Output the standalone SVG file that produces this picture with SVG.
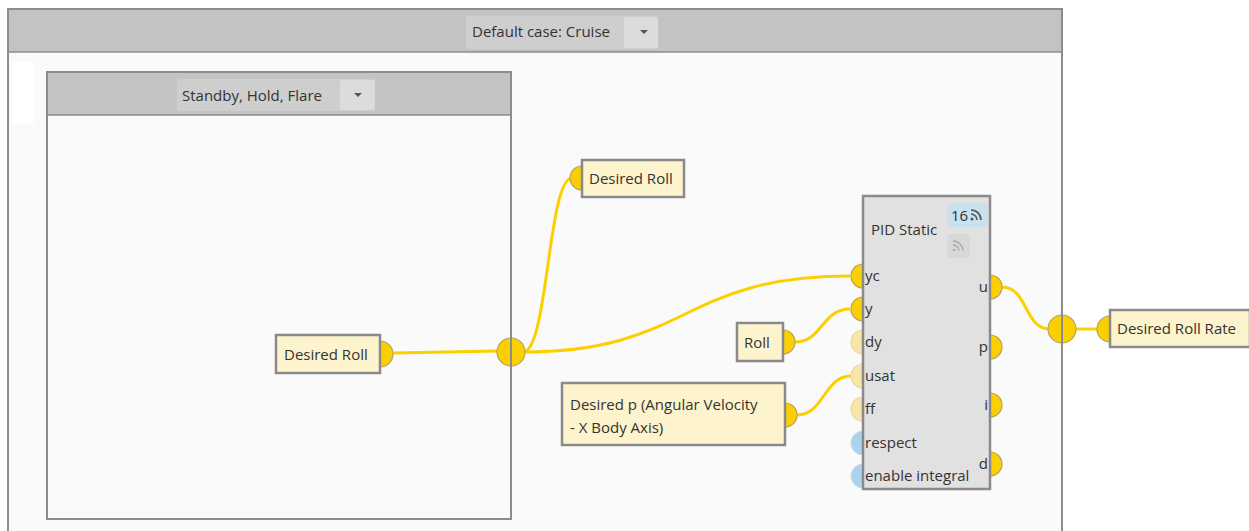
<svg xmlns="http://www.w3.org/2000/svg" width="1249" height="531" viewBox="0 0 1249 531">
<defs>
<style>
text{font-family:"Open Sans","Noto Sans","Liberation Sans",sans-serif;font-size:15px;fill:#333}
.cont{fill:#fafafa;stroke:#8c8c8c;stroke-width:2}
.hdr{fill:#c3c3c3}
.dd{fill:#cecece}
.ddb{fill:#dcdcdc}
.box{fill:#fdf3cc;stroke:#8a8a8a;stroke-width:2.5}
.port{fill:#fcd000;stroke:#b9a35a;stroke-width:1.2}
.portl{fill:#f8e6a6;stroke:#e6d9ae;stroke-width:1.2}
.portb{fill:#a9d3ef;stroke:#c4dbe9;stroke-width:1}
.wire{fill:none;stroke:#fcd000;stroke-width:3}
.blk{fill:#e1e1e1;stroke:#8a8a8a;stroke-width:2.5}
</style>
</defs>
<rect width="1249" height="531" fill="#ffffff"/>
<g id="outer-switch">
<rect class="cont" x="8" y="9" width="1054" height="540"/>
<rect class="hdr" x="9" y="10" width="1052" height="42"/>
<line x1="8" y1="52" x2="1062" y2="52" stroke="#8c8c8c" stroke-width="1.5"/>
<rect class="dd" x="466" y="16" width="192" height="33" rx="2"/>
<rect class="ddb" x="624" y="17" width="34" height="31" rx="2"/>
<path d="M640,30 L648,30 L644,34 Z" fill="#555"/>
<text x="472" y="37">Default case: Cruise</text>
<rect x="12" y="62" width="22" height="62" fill="#ffffff"/>
<rect x="84" y="334" width="17" height="37" fill="#ffffff"/>
</g>
<g id="inner-case">
<rect class="cont" x="47" y="72" width="464" height="447"/>
<rect class="hdr" x="48" y="73" width="462" height="42"/>
<line x1="47" y1="115" x2="511" y2="115" stroke="#8c8c8c" stroke-width="1.5"/>
<rect class="dd" x="177" y="79" width="198" height="32" rx="2"/>
<rect class="ddb" x="340" y="80" width="35" height="30" rx="2"/>
<path d="M354,93 L362,93 L358,97 Z" fill="#555"/>
<text x="182" y="101">Standby, Hold, Flare</text>
</g>
<g id="connectors">
<path class="wire" d="M393,353 L497,351"/>
<path class="wire" d="M523,352 C548,352 548,178 572,178"/>
<path class="wire" d="M523,352 C690,352 680,276 850,276"/>
<path class="wire" d="M795,342 C822,342 822,309 850,309"/>
<path class="wire" d="M797,415 C824,415 824,376 851,376"/>
<path class="wire" d="M1002,287 C1028,287 1024,329 1050,329"/>
<path class="wire" d="M1076,329 L1098,329"/>
</g>
<g id="desired-roll-in">
<path class="port" d="M380,341 A13,13 0 0 1 380,367 Z"/>
<rect class="box" x="276" y="335" width="104" height="38"/>
<text x="284" y="360">Desired Roll</text>
</g>
<g id="boundary-port-1">
<circle class="port" cx="511" cy="352" r="14"/>
<line x1="511" y1="336" x2="511" y2="368" stroke="#8c8c8c" stroke-width="2"/>
</g>
<g id="desired-roll-out">
<path class="port" d="M582,166 A12,12 0 0 0 582,190 Z"/>
<rect class="box" x="582" y="160" width="102" height="37"/>
<text x="589" y="184">Desired Roll</text>
</g>
<g id="roll">
<path class="port" d="M783,330 A12,12 0 0 1 783,354 Z"/>
<rect class="box" x="737" y="323" width="46" height="38"/>
<text x="744" y="348">Roll</text>
</g>
<g id="desired-p">
<path class="port" d="M785,403 A12,12 0 0 1 785,427 Z"/>
<rect class="box" x="562" y="383" width="223" height="62"/>
<text x="570" y="410">Desired p (Angular Velocity</text>
<text x="570" y="433">- X Body Axis)</text>
</g>
<g id="pid-static">
<circle class="port" cx="863" cy="276" r="12"/>
<circle class="port" cx="863" cy="309" r="12"/>
<circle class="portl" cx="863" cy="342" r="12"/>
<circle class="portl" cx="863" cy="376" r="12"/>
<circle class="portl" cx="863" cy="409" r="12"/>
<circle class="portb" cx="863" cy="443" r="12"/>
<circle class="portb" cx="863" cy="476" r="12"/>
<circle class="port" cx="990" cy="287" r="12"/>
<circle class="port" cx="990" cy="347" r="12"/>
<circle class="port" cx="990" cy="405" r="12"/>
<circle class="port" cx="990" cy="464" r="12"/>
<rect class="blk" x="863" y="196" width="127" height="293"/>
<text x="871" y="235">PID Static</text>
<rect x="947" y="203" width="41" height="24" rx="5" fill="#c7e1ee"/>
<text x="951" y="221">16</text>
<g fill="none" stroke="#555" stroke-width="1.6">
<path d="M971,210 A10,10 0 0 1 981,220"/>
<path d="M971,214 A6,6 0 0 1 977,220"/>
</g>
<circle cx="972" cy="219" r="1.5" fill="#555"/>
<rect x="947" y="234" width="23" height="24" rx="4" fill="#d8d8d8"/>
<g fill="none" stroke="#aaa" stroke-width="1.3">
<path d="M953,241 A10,10 0 0 1 963,251"/>
<path d="M953,245 A6,6 0 0 1 959,251"/>
</g>
<circle cx="954" cy="250" r="1.3" fill="#aaa"/>
<text x="865" y="281">yc</text>
<text x="865" y="314">y</text>
<text x="865" y="347">dy</text>
<text x="865" y="381">usat</text>
<text x="865" y="414">ff</text>
<text x="865" y="448">respect</text>
<text x="865" y="481">enable integral</text>
<text x="988" y="292" text-anchor="end">u</text>
<text x="988" y="352" text-anchor="end">p</text>
<text x="988" y="410" text-anchor="end">i</text>
<text x="988" y="469" text-anchor="end">d</text>
</g>
<g id="boundary-port-2">
<circle class="port" cx="1062" cy="329" r="14"/>
<line x1="1062" y1="313" x2="1062" y2="345" stroke="#8c8c8c" stroke-width="2"/>
</g>
<g id="desired-roll-rate">
<path class="port" d="M1110,316 A13,13 0 0 0 1110,342 Z"/>
<rect class="box" x="1110" y="310" width="140" height="37"/>
<text x="1117" y="334">Desired Roll Rate</text>
</g>
</svg>
